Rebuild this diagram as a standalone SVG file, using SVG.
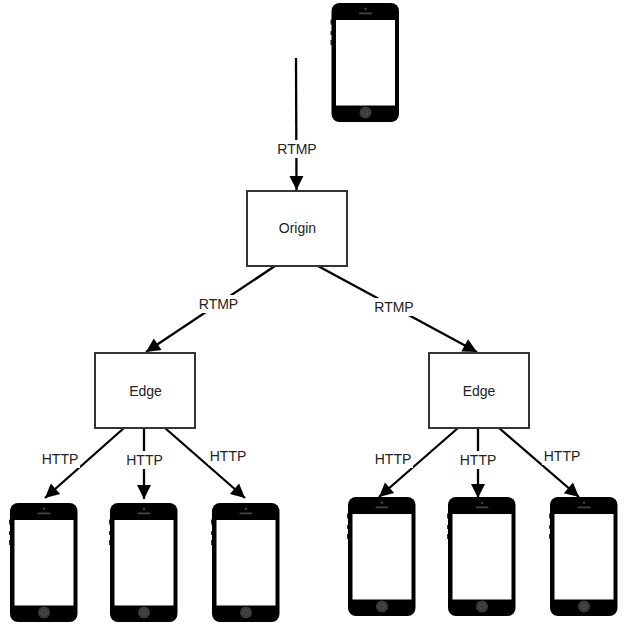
<svg xmlns="http://www.w3.org/2000/svg" width="628" height="630" viewBox="0 0 628 630">
<style>
text{font-family:"Liberation Sans",Arial,sans-serif;font-size:14px;fill:#222;text-anchor:middle;dominant-baseline:central}
.box{fill:#fff;stroke:#333;stroke-width:2}
.edge{fill:none;stroke:#000;stroke-width:2.300;marker-end:url(#arrow)}
.lbl{fill:#fff}
</style>
<defs>
<marker id="arrow" markerUnits="userSpaceOnUse" markerWidth="16" markerHeight="16" refX="15" refY="7.500" orient="auto">
<path d="M1 0.500L15 7.500L1 14.500Z" fill="#000"/>
</marker>
<symbol id="phone" width="70" height="120" viewBox="0 0 70 120" overflow="visible">
<rect x="-1" y="16.500" width="2" height="5" fill="#333"/>
<rect x="-1" y="28" width="2" height="4" fill="#333"/>
<rect x="-1" y="37" width="2" height="5" fill="#333"/>
<rect x="0" y="0" width="67.500" height="119" rx="8" fill="#000"/>
<rect x="4.500" y="17" width="59" height="85.500" fill="#fff"/>
<circle cx="34" cy="5.700" r="1.200" fill="#444"/>
<rect x="27.500" y="9.500" width="13" height="1.800" rx="0.900" fill="#444"/>
<circle cx="34" cy="109.500" r="6" fill="#3a3a3a"/>
<circle cx="34" cy="109.500" r="2.500" fill="none" stroke="#555" stroke-width="0.700"/>
</symbol>
</defs>
<g id="connectors">
<path class="edge" d="M296 58L296.500 190"/>
<path class="edge" d="M275 266L146 352"/>
<path class="edge" d="M318 266L477 352"/>
<path class="edge" d="M124 428L45 498"/>
<path class="edge" d="M144 428L144 499"/>
<path class="edge" d="M165 428L245 498"/>
<path class="edge" d="M458 428L379 497"/>
<path class="edge" d="M478 428L478 498"/>
<path class="edge" d="M499 428L579 497"/>
</g>
<g id="connector-labels">
<rect class="lbl" x="276" y="140" width="42" height="18"/><text x="297" y="148.500">RTMP</text>
<rect class="lbl" x="197" y="295" width="44" height="18"/><text x="218.500" y="304">RTMP</text>
<rect class="lbl" x="372" y="298" width="44" height="18"/><text x="394" y="307">RTMP</text>
<rect class="lbl" x="40" y="450" width="40" height="18"/><text x="60" y="459">HTTP</text>
<rect class="lbl" x="125" y="451" width="40" height="18"/><text x="144.500" y="460">HTTP</text>
<rect class="lbl" x="208" y="447" width="40" height="18"/><text x="228" y="456">HTTP</text>
<rect class="lbl" x="373" y="450" width="40" height="18"/><text x="393" y="459">HTTP</text>
<rect class="lbl" x="458" y="451" width="40" height="18"/><text x="478" y="460">HTTP</text>
<rect class="lbl" x="542" y="447" width="40" height="18"/><text x="562" y="456">HTTP</text>
</g>
<g id="origin"><rect class="box" x="247" y="191" width="100" height="75"/><text x="297.500" y="228">Origin</text></g>
<g id="edge-left"><rect class="box" x="95" y="353" width="100" height="75"/><text x="145.500" y="391">Edge</text></g>
<g id="edge-right"><rect class="box" x="429" y="353" width="100" height="75"/><text x="479" y="391">Edge</text></g>
<g id="phone-source"><use href="#phone" x="331.500" y="3"/></g>
<g id="phone-l1"><use href="#phone" x="10" y="503"/></g>
<g id="phone-l2"><use href="#phone" x="110" y="503"/></g>
<g id="phone-l3"><use href="#phone" x="212" y="503"/></g>
<g id="phone-r1"><use href="#phone" x="348" y="497"/></g>
<g id="phone-r2"><use href="#phone" x="448" y="497"/></g>
<g id="phone-r3"><use href="#phone" x="550" y="497"/></g>
</svg>
